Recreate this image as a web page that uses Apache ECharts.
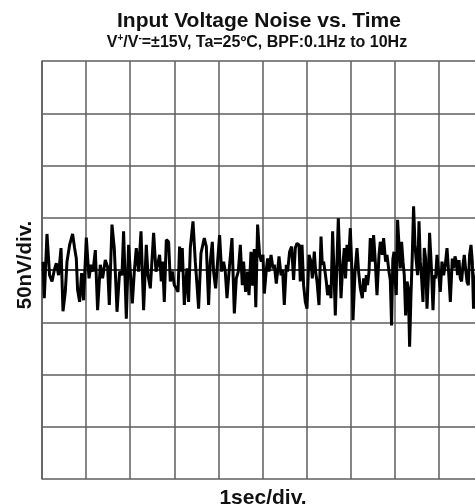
<!DOCTYPE html>
<html>
<head>
<meta charset="utf-8">
<script src="https://cdn.jsdelivr.net/npm/echarts@6/dist/echarts.min.js"></script>
<style>html,body{margin:0;padding:0;background:#fff;overflow:hidden;width:475px;height:504px;}#c{width:490px;height:504px;}</style>
</head>
<body>
<div id="c"></div>
<script>
// Sample times (seconds) and noise values (divisions of 50 nV)
var times = [0.023,0.052,0.113,0.172,0.227,0.279,0.324,0.376,0.431,0.476,0.528,0.567,0.626,0.694,0.739,0.778,0.807,0.853,0.898,0.943,
1.005,1.066,1.111,1.156,1.209,1.261,1.322,1.374,1.435,1.488,1.526,1.587,1.639,1.669,1.701,1.760,1.814,1.850,1.912,1.964,
2.002,2.048,2.093,2.138,2.190,2.245,2.304,2.365,2.404,2.456,2.531,2.585,2.621,2.667,2.705,2.735,2.773,2.819,2.871,2.909,2.955,
3.000,3.045,3.084,3.120,3.152,3.181,3.227,3.256,3.288,3.324,3.363,3.424,3.476,3.515,3.551,3.605,3.635,3.680,3.726,3.778,3.816,3.862,3.891,3.937,3.982,
4.027,4.073,4.118,4.156,4.195,4.247,4.308,4.361,4.406,4.451,4.497,4.542,4.571,4.617,4.662,4.694,4.739,4.776,4.814,4.848,4.889,4.934,4.973,
5.011,5.041,5.086,5.116,5.147,5.193,5.238,5.268,5.313,5.342,5.374,5.420,5.456,5.494,5.540,5.569,5.615,5.660,5.705,5.744,5.782,5.828,5.857,5.896,5.932,5.971,
6.009,6.054,6.100,6.129,6.175,6.204,6.236,6.281,6.327,6.356,6.386,6.417,6.447,6.476,6.522,6.553,6.590,6.621,6.651,6.689,6.719,6.748,6.780,6.816,6.855,6.884,6.916,6.952,6.991,
7.029,7.052,7.098,7.143,7.179,7.218,7.263,7.293,7.324,7.354,7.383,7.415,7.444,7.490,7.519,7.558,7.596,7.642,7.671,7.717,7.746,7.791,7.823,7.868,7.898,7.927,7.955,7.982,
8.005,8.034,8.063,8.095,8.125,8.154,8.186,8.215,8.245,8.277,8.306,8.336,8.367,8.397,8.426,8.458,8.488,8.517,8.549,8.578,8.608,8.639,8.669,8.698,8.730,8.760,8.789,8.834,8.866,8.896,8.925,8.957,8.993,
9.032,9.070,9.107,9.145,9.184,9.220,9.259,9.304,9.333,9.365,9.395,9.424,9.456,9.485,9.515,9.546,9.576,9.605,9.637,9.667,9.696,9.728,9.757,9.785,9.823,9.890,9.960];
var noise = [0.16,-0.54,0.69,-0.10,-0.22,0.00,0.13,-0.10,0.42,-0.79,-0.42,0.16,0.48,0.69,0.42,0.22,-0.38,-0.61,-0.06,-0.58,
0.62,-0.16,0.10,-0.03,0.38,-0.77,0.10,-0.16,0.19,0.06,-0.67,0.87,0.42,-0.16,-0.80,-0.03,-0.10,0.74,-0.93,0.48,
-0.03,-0.64,-0.03,0.42,-0.03,0.74,-0.77,0.48,-0.10,-0.35,0.71,-0.03,0.10,0.29,-0.22,0.16,-0.61,0.58,0.54,-0.22,-0.03,
-0.29,-0.35,-0.42,0.45,-0.03,0.42,-0.67,-0.29,0.03,-0.61,0.42,0.93,0.16,-0.29,-0.74,0.32,0.29,0.61,0.45,-0.67,0.16,0.54,-0.03,-0.35,0.16,
0.67,-0.03,0.16,-0.03,-0.54,0.03,0.61,-0.83,-0.16,-0.03,0.48,-0.29,0.16,-0.42,-0.03,-0.48,0.35,-0.30,0.40,-0.71,0.87,0.29,0.16,
0.29,-0.45,0.00,0.22,-0.03,0.29,0.03,0.10,-0.26,-0.03,0.26,-0.10,0.00,-0.67,0.10,-0.03,0.35,0.45,-0.19,0.42,0.51,0.48,-0.22,0.48,-0.29,-0.61,
-0.74,0.29,0.16,-0.16,0.35,-0.03,-0.22,-0.67,0.64,0.10,0.16,-0.03,-0.22,-0.48,-0.29,-0.54,0.74,-0.03,-0.87,0.16,0.99,0.29,-0.54,0.03,0.42,-0.16,0.48,0.16,0.80,
-0.03,-0.96,-0.03,0.42,-0.03,-0.35,-0.54,-0.16,-0.42,-0.10,-0.29,-0.03,0.61,0.16,0.67,0.16,-0.48,0.29,0.54,0.29,0.61,0.16,0.29,-0.03,-0.19,-1.06,0.20,0.35,
-0.16,-0.48,0.96,0.48,0.03,0.54,0.16,-0.10,-0.87,-0.22,-0.35,-1.47,-0.48,0.29,1.22,0.48,0.16,-0.10,0.93,0.16,-0.16,-0.61,0.42,0.22,-0.74,-0.16,0.71,-0.03,-0.77,-0.10,-0.16,0.29,-0.03,
-0.42,0.16,-0.10,0.10,0.42,-0.03,-0.61,0.22,0.03,0.26,0.16,-0.10,0.19,-0.16,-0.22,0.10,0.29,0.03,-0.22,-0.29,0.29,0.48,0.16,-0.74,-0.22,0.30,-0.10];

var titleText = 'Input Voltage Noise vs. Time';
var yLabel = '50nV/div.';
var xLabel = '1sec/div.';

var chart = echarts.init(document.getElementById('c'));
var pts = times.map(function (t, i) { return [t, noise[i]]; });
var gridColor = '#5e5e5e';
var ff = '"Liberation Sans", Arial, sans-serif';
chart.setOption({
  animation: false,
  backgroundColor: '#fff',
  grid: { left: 42, top: 61, width: 441, height: 418, containLabel: false },
  xAxis: {
    type: 'value', min: 0, max: 10, interval: 1,
    axisLine: { show: true, lineStyle: { color: '#3a3a3a', width: 2 } },
    axisTick: { show: false }, axisLabel: { show: false },
    splitLine: { show: true, lineStyle: { color: gridColor, width: 1.5 } }
  },
  yAxis: {
    type: 'value', min: -4, max: 4, interval: 1,
    axisLine: { show: true, lineStyle: { color: gridColor, width: 1.5 } },
    axisTick: { show: false }, axisLabel: { show: false },
    splitLine: { show: true, lineStyle: { color: gridColor, width: 1.5 } }
  },
  graphic: [
    { type: 'text', x: 259, y: 21.5, style: { text: titleText, fill: '#111', font: 'bold 21px ' + ff, textAlign: 'center', textVerticalAlign: 'middle' } },
    { type: 'text', x: 257, y: 42.5, style: {
        text: '{a|V}{s|+}{a|/V}{s|-}{a|=±15V, Ta=25ºC, BPF:0.1Hz to 10Hz}',
        textAlign: 'center', textVerticalAlign: 'middle', fill: '#111',
        rich: {
          a: { font: 'bold 16px ' + ff, fill: '#111', lineHeight: 18 },
          s: { font: 'bold 10px ' + ff, fill: '#111', verticalAlign: 'top', lineHeight: 18, padding: [0, 0, 8, 0] }
        } } },
    { type: 'text', x: 25, y: 265, rotation: Math.PI / 2, style: { text: yLabel, fill: '#111', font: 'bold 20.5px ' + ff, textAlign: 'center', textVerticalAlign: 'middle' } },
    { type: 'text', x: 263, y: 498, style: { text: xLabel, fill: '#111', font: 'bold 21px ' + ff, textAlign: 'center', textVerticalAlign: 'middle' } }
  ],
  series: [{
    type: 'line', data: pts, showSymbol: false, smooth: false,
    lineStyle: { color: '#000', width: 3 }, clip: true
  }]
});
</script>
</body>
</html>
